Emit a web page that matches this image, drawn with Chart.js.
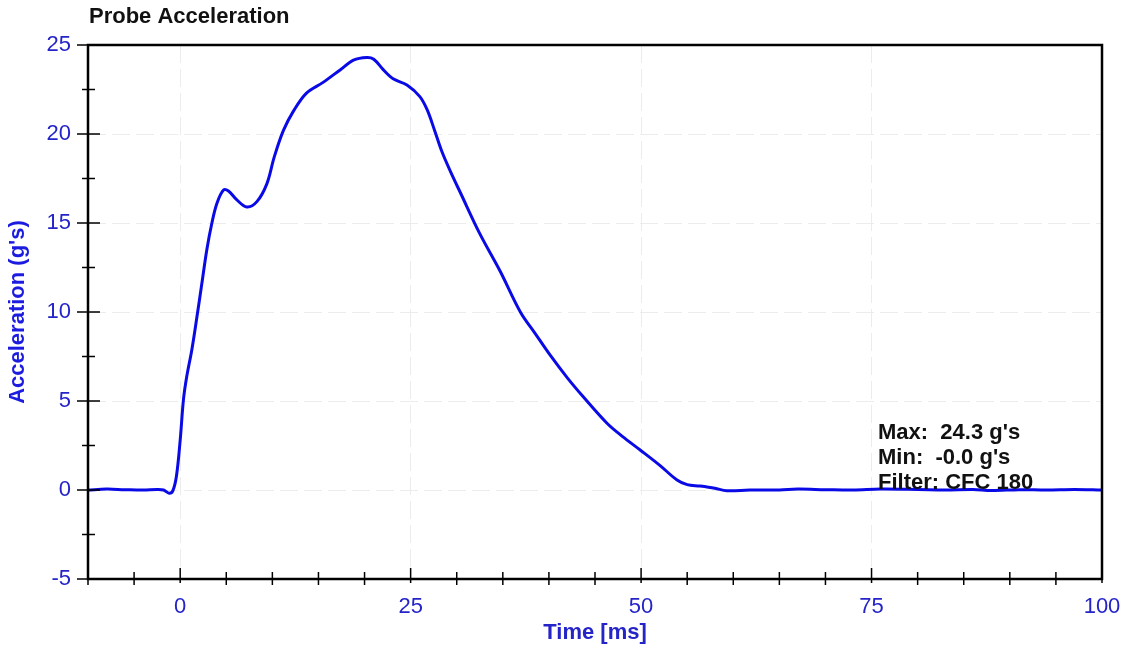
<!DOCTYPE html>
<html>
<head>
    <title>Probe Acceleration</title>
    <script src="https://cdn.jsdelivr.net/npm/chart.js"></script>
    <style>
        body { margin: 0; background: #fff; }
    </style>
</head>
<body>
    <canvas id="accel" width="1130" height="650"></canvas>

    <script>
        const times = [-10, -8, -6, -4, -2.5, -1.8, -1.2, -0.8, -0.4, 0, 0.36, 0.72, 1.27, 1.81, 2.35, 2.89,
            3.44, 3.98, 4.7, 5.24, 6.15, 7.23, 8.32, 9.4, 10.2, 11.2, 12.3, 13.7, 15.5, 17.35, 18.8, 20.25,
            21.0, 22.05, 23.1, 24.6, 26.0, 26.8, 27.6, 28.4, 29.4, 30.4, 32.5, 34.7, 36.9, 38.5, 40.1, 42.0,
            43.7, 46.3, 48.0, 49.9, 52.0, 53.9, 55.0, 56.4, 58.0, 59.3, 61.8, 65, 67, 70, 73, 76, 80, 83, 86,
            88, 91, 94, 97, 100];
        const accel = [0.0, 0.05, 0.02, 0.0, 0.03, 0.0, -0.18, -0.05, 0.8, 2.8, 5.1, 6.4, 7.9, 9.7, 11.6, 13.5,
            15.0, 16.1, 16.85, 16.8, 16.3, 15.9, 16.2, 17.2, 18.7, 20.2, 21.3, 22.3, 22.9, 23.6, 24.15, 24.3,
            24.2, 23.6, 23.1, 22.75, 22.1, 21.35, 20.2, 19.0, 17.8, 16.7, 14.4, 12.3, 10.0, 8.8, 7.6, 6.3,
            5.25, 3.75, 3.0, 2.25, 1.4, 0.56, 0.3, 0.22, 0.1, -0.04, 0.0, 0.0, 0.05, 0.02, 0.0, 0.05, 0.03, 0.0, 0.03,
            -0.03, 0.02, 0.0, 0.03, 0.0];

        const infoLines = ["Max:  24.3 g's", "Min:  -0.0 g's", "Filter: CFC 180"];

        const blue = '#2424c8';
        const font = '"Liberation Sans", Arial, sans-serif';

        // frame, tick marks, title and info text
        const decor = {
            id: 'decor',
            afterDatasetsDraw(chart) {
                const c = chart.ctx;
                const a = chart.chartArea;
                const xs = chart.scales.x, ys = chart.scales.y;
                c.save();
                c.strokeStyle = '#000';
                c.lineWidth = 1.5;
                xs.ticks.forEach(t => {
                    const px = xs.getPixelForValue(t.value);
                    const major = t.value % 25 === 0;
                    c.beginPath();
                    c.moveTo(px, a.bottom - (major ? 11 : 7));
                    c.lineTo(px, a.bottom + (major ? 4 : 6));
                    c.stroke();
                });
                ys.ticks.forEach(t => {
                    const py = ys.getPixelForValue(t.value);
                    const major = t.value % 5 === 0;
                    c.beginPath();
                    c.moveTo(a.left - (major ? 11 : 6), py);
                    c.lineTo(a.left + (major ? 12 : 7), py);
                    c.stroke();
                });
                c.lineWidth = 2.5;
                c.strokeRect(a.left, a.top, a.right - a.left, a.bottom - a.top);

                c.fillStyle = '#111';
                c.textBaseline = 'middle';
                c.font = 'bold 22px ' + font;
                c.fillText('Probe Acceleration', 89, 17);
                infoLines.forEach((s, i) => c.fillText(s, a.left + 790, 433 + i * 25));
                c.restore();
            }
        };

        new Chart(document.getElementById('accel').getContext('2d'), {
            type: 'line',
            data: {
                datasets: [{
                    data: times.map((t, i) => ({ x: t, y: accel[i] })),
                    borderColor: '#0a0ae6',
                    borderWidth: 3,
                    pointRadius: 0,
                    tension: 0.35
                }]
            },
            options: {
                responsive: false,
                animation: false,
                layout: { padding: { top: 45, right: 28, left: 0, bottom: 0 } },
                plugins: { legend: { display: false }, tooltip: { enabled: false } },
                scales: {
                    x: {
                        type: 'linear',
                        min: -10, max: 100,
                        afterFit: s => { s.height = 71; s.paddingLeft = 0; s.paddingRight = 0; },
                        border: { display: false, dash: [18, 6] },
                        grid: {
                            drawTicks: false,
                            lineWidth: 1,
                            color: ctx => (ctx.tick && ctx.tick.value % 25 === 0 && ctx.tick.value < 100) ? '#ececec' : 'transparent'
                        },
                        ticks: {
                            stepSize: 5, autoSkip: false, maxRotation: 0,
                            padding: 15, color: blue,
                            font: { family: font, size: 22 },
                            callback: v => v % 25 === 0 ? v : ''
                        },
                        title: {
                            display: true, text: 'Time [ms]', color: blue,
                            font: { family: font, size: 22, weight: 'bold' },
                            padding: { top: 0, bottom: 4 }
                        }
                    },
                    y: {
                        min: -5, max: 25,
                        afterFit: s => { s.width = 88; },
                        border: { display: false, dash: [18, 6] },
                        grid: {
                            drawTicks: false,
                            lineWidth: 1,
                            color: ctx => (ctx.tick && ctx.tick.value % 5 === 0 && ctx.tick.value > -5 && ctx.tick.value < 25) ? '#ececec' : 'transparent'
                        },
                        ticks: {
                            stepSize: 2.5, autoSkip: false,
                            padding: 17, color: blue,
                            font: { family: font, size: 22 },
                            callback: v => v % 5 === 0 ? v : ''
                        },
                        title: {
                            display: true, text: "Acceleration (g's)", color: '#1c1ce0',
                            font: { family: font, size: 22, weight: 'bold' },
                            padding: { top: 5, bottom: 0 }
                        }
                    }
                }
            },
            plugins: [decor]
        });
    </script>
</body>
</html>
